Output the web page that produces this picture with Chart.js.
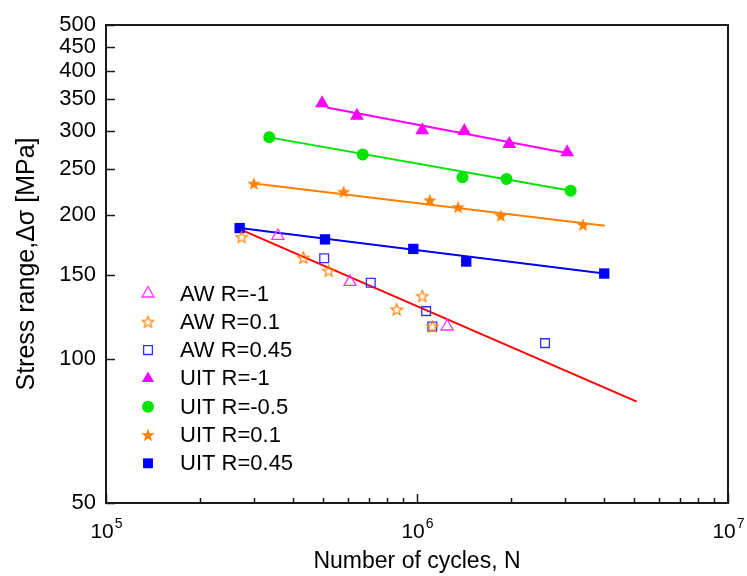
<!DOCTYPE html>
<html>
<head>
<meta charset="utf-8">
<script src="https://cdn.jsdelivr.net/npm/chart.js@4.4.0/dist/chart.umd.min.js"></script>
<style>
  html, body { margin: 0; padding: 0; background: #fff; }
</style>
</head>
<body>
<canvas id="snChart" width="747" height="576"></canvas>
<script>
// test data (N = cycles, S = stress range in MPa)
const awR1N = [3.57e5, 6.09e5, 1.25e6];
const awR1S = [181, 145, 117];
const awR01N = [2.73e5, 4.31e5, 5.2e5, 8.6e5, 1.04e6, 1.12e6];
const awR01S = [180, 163, 153, 127, 135.5, 117];
const awR045N = [5.03e5, 7.1e5, 1.07e6, 1.12e6, 2.58e6];
const awR045S = [162.5, 144.5, 126, 117, 108];
const uitR1N = [4.95e5, 6.41e5, 1.04e6, 1.42e6, 1.98e6, 3.04e6];
const uitR1S = [343, 323, 301, 300, 282, 271];
const uitR05N = [3.35e5, 6.69e5, 1.40e6, 1.94e6, 3.12e6];
const uitR05S = [291, 268, 240, 238, 225];
const uitR01N = [2.99e5, 5.81e5, 1.10e6, 1.355e6, 1.86e6, 3.42e6];
const uitR01S = [233, 224, 215, 208, 199.5, 191];
const uitR045N = [2.69e5, 5.06e5, 9.73e5, 1.44e6, 4.0e6];
const uitR045S = [188, 178, 170, 160, 151];

// fitted lines, end points
const fitUitR1N = [5.13e5, 3.03e6];
const fitUitR1S = [336, 270];
const fitUitR05N = [3.35e5, 3.12e6];
const fitUitR05S = [291, 225];
const fitUitR01N = [2.99e5, 4.02e6];
const fitUitR01S = [233, 190];
const fitUitR045N = [2.69e5, 4.0e6];
const fitUitR045S = [188, 151];
const fitAwN = [2.69e5, 5.09e6];
const fitAwS = [187, 81.5];

// axis ticks
const yTicks = [50, 100, 150, 200, 250, 300, 350, 400, 450, 500];
const xMajor = [1e5, 1e6, 1e7];
const xExp = ["5", "6", "7"];
const xMinor = [2e5, 3e5, 4e5, 5e5, 6e5, 7e5, 8e5, 9e5, 2e6, 3e6, 4e6, 5e6, 6e6, 7e6, 8e6, 9e6];

const FONT = "'Liberation Sans', Arial, sans-serif";

function pts(xs, ys) {
    return xs.map((x, i) => ({ x: x, y: ys[i] }));
}

function makeStar(outer, inner, fill, stroke, lw) {
    const size = Math.ceil(outer * 2 + lw * 2 + 2);
    const c = document.createElement("canvas");
    c.width = size;
    c.height = size;
    const g = c.getContext("2d");
    const cx = size / 2, cy = size / 2 + 0.5;
    g.beginPath();
    for (let i = 0; i < 10; i++) {
        const r = i % 2 ? inner : outer;
        const a = -Math.PI / 2 + i * Math.PI / 5;
        g.lineTo(cx + r * Math.cos(a), cy + r * Math.sin(a));
    }
    g.closePath();
    if (fill) { g.fillStyle = fill; g.fill(); }
    if (stroke) { g.strokeStyle = stroke; g.lineWidth = lw; g.stroke(); }
    return c;
}

const starFilled = makeStar(7, 2.9, "#FF8000", null, 0);
const starOpen = makeStar(6, 2.6, null, "#FF8000", 1.2);

function markers(label, xs, ys, style, radius, color, filled) {
    return {
        label: label,
        data: pts(xs, ys),
        showLine: false,
        pointStyle: style,
        pointRadius: radius,
        pointHoverRadius: radius,
        pointBackgroundColor: filled ? color : "rgba(0,0,0,0)",
        pointBorderColor: color,
        pointBorderWidth: filled ? 0 : 1.3,
        order: 1
    };
}

function fitLine(xs, ys, color) {
    return {
        label: "",
        isFit: true,
        data: pts(xs, ys),
        showLine: true,
        borderColor: color,
        borderWidth: 2,
        pointRadius: 0,
        pointHoverRadius: 0,
        order: 2
    };
}

// inward ticks, frame, superscript x labels, legend
const decorPlugin = {
    id: "decor",
    afterDatasetsDraw(chart) {
        const ctx = chart.ctx;
        const area = chart.chartArea;
        const xs = chart.scales.x, ys = chart.scales.y;
        ctx.save();
        ctx.strokeStyle = "#1a1a1a";
        ctx.lineWidth = 1.5;
        ctx.beginPath();
        yTicks.forEach(v => {
            const py = Math.round(ys.getPixelForValue(v)) + 0.5;
            ctx.moveTo(area.left, py);
            ctx.lineTo(area.left + 9, py);
        });
        xMajor.forEach(v => {
            const px = Math.round(xs.getPixelForValue(v)) + 0.5;
            ctx.moveTo(px, area.bottom);
            ctx.lineTo(px, area.bottom - 9);
        });
        xMinor.forEach(v => {
            const px = Math.round(xs.getPixelForValue(v)) + 0.5;
            ctx.moveTo(px, area.bottom);
            ctx.lineTo(px, area.bottom - 5);
        });
        ctx.stroke();

        ctx.lineWidth = 2;
        ctx.strokeRect(area.left, area.top, area.right - area.left, area.bottom - area.top);

        // x tick labels 10^n
        ctx.fillStyle = "#000";
        ctx.textBaseline = "alphabetic";
        ctx.textAlign = "left";
        xMajor.forEach((v, i) => {
            const px = xs.getPixelForValue(v);
            ctx.font = "21px " + FONT;
            const w1 = ctx.measureText("10").width;
            ctx.font = "14px " + FONT;
            const w2 = ctx.measureText(xExp[i]).width;
            const x0 = px - (w1 + w2) / 2;
            ctx.font = "21px " + FONT;
            ctx.fillText("10", x0, 538);
            ctx.font = "14px " + FONT;
            ctx.fillText(xExp[i], x0 + w1 + 1, 528);
        });

        // legend
        const items = chart.data.datasets.filter(d => !d.isFit);
        ctx.font = "22px " + FONT;
        ctx.textBaseline = "middle";
        items.forEach((d, i) => {
            const y = 293.5 + i * 28.3;
            ctx.fillStyle = d.pointBackgroundColor;
            ctx.strokeStyle = d.pointBorderColor;
            ctx.lineWidth = d.pointBorderWidth;
            Chart.helpers.drawPoint(ctx, {
                pointStyle: d.pointStyle,
                radius: Math.min(d.pointRadius, 7),
                rotation: 0,
                borderWidth: d.pointBorderWidth
            }, 148, y);
            ctx.fillStyle = "#000";
            ctx.fillText(d.label, 180, y + 1);
        });
        ctx.restore();
    }
};

const ctx = document.getElementById("snChart").getContext("2d");

new Chart(ctx, {
    type: "scatter",
    data: {
        datasets: [
            markers("AW R=-1", awR1N, awR1S, "triangle", 7, "#FF33FF", false),
            markers("AW R=0.1", awR01N, awR01S, starOpen, 6, "#FF8000", false),
            markers("AW R=0.45", awR045N, awR045S, "rect", 6.2, "#3030FF", false),
            markers("UIT R=-1", uitR1N, uitR1S, "triangle", 8, "#FF00FF", true),
            markers("UIT R=-0.5", uitR05N, uitR05S, "circle", 6, "#00E400", true),
            markers("UIT R=0.1", uitR01N, uitR01S, starFilled, 7, "#FF8000", true),
            markers("UIT R=0.45", uitR045N, uitR045S, "rect", 7.3, "#0000FF", true),
            fitLine(fitUitR1N, fitUitR1S, "#FF00FF"),
            fitLine(fitUitR05N, fitUitR05S, "#00E400"),
            fitLine(fitUitR01N, fitUitR01S, "#FF8000"),
            fitLine(fitUitR045N, fitUitR045S, "#0000FF"),
            fitLine(fitAwN, fitAwS, "#FF0000")
        ]
    },
    options: {
        responsive: false,
        animation: false,
        layout: { padding: { top: 25, right: 19, left: 0, bottom: 0 } },
        plugins: {
            legend: { display: false },
            tooltip: { enabled: false }
        },
        scales: {
            x: {
                type: "logarithmic",
                min: 1e5,
                max: 1e7,
                grid: { display: false, drawTicks: false },
                border: { display: false },
                ticks: { display: false },
                title: {
                    display: true,
                    text: "Number of cycles, N",
                    color: "#000",
                    font: { family: FONT, size: 23 },
                    padding: { top: 0, bottom: 1 }
                },
                afterFit: (scale) => { scale.height = 73; }
            },
            y: {
                type: "logarithmic",
                min: 50,
                max: 500,
                grid: { display: false, drawTicks: false },
                border: { display: false },
                afterBuildTicks: (scale) => {
                    scale.ticks = yTicks.map(v => ({ value: v }));
                },
                ticks: {
                    color: "#000",
                    padding: 10,
                    font: { family: FONT, size: 22 },
                    callback: (v) => String(v)
                },
                title: {
                    display: true,
                    text: "Stress range,Δσ [MPa]",
                    color: "#000",
                    font: { family: FONT, size: 25 },
                    padding: { top: 12, bottom: 0 }
                },
                afterFit: (scale) => { scale.width = 106; }
            }
        }
    },
    plugins: [decorPlugin]
});
</script>
</body>
</html>
